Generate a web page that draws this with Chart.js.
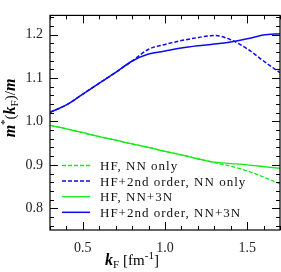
<!DOCTYPE html>
<html>
<head>
<meta charset="utf-8">
<script src="https://cdn.jsdelivr.net/npm/chart.js@4.4.0/dist/chart.umd.min.js"></script>
<style>
  html, body { margin: 0; padding: 0; background: #fff; }
  #wrap { width: 281px; height: 272px; position: relative; }
</style>
</head>
<body>
<div id="wrap"><canvas id="c"></canvas></div>
<script>
// --- DATA ---
const kF = [0.3, 0.4, 0.5, 0.6, 0.7, 0.8, 0.9, 1.0, 1.1, 1.2, 1.3, 1.4, 1.5, 1.6, 1.7];
const hfNN      = [0.991, 0.983, 0.974, 0.965, 0.957, 0.948, 0.940, 0.931, 0.923, 0.914, 0.905, 0.897, 0.886, 0.872, 0.856];
const hf2NN     = [1.021, 1.038, 1.063, 1.088, 1.113, 1.139, 1.166, 1.177, 1.186, 1.193, 1.198, 1.188, 1.167, 1.139, 1.112];
const hfNN3N    = [0.991, 0.983, 0.974, 0.965, 0.957, 0.948, 0.940, 0.931, 0.923, 0.914, 0.906, 0.903, 0.900, 0.896, 0.892];
const hf2NN3N   = [1.021, 1.038, 1.063, 1.088, 1.113, 1.139, 1.155, 1.162, 1.169, 1.174, 1.178, 1.183, 1.190, 1.199, 1.202];
const labels = ["HF, NN only", "HF+2nd order, NN only", "HF, NN+3N", "HF+2nd order, NN+3N"];
const xTicks = [0.5, 1.0, 1.5];
const yTicks = [0.8, 0.9, 1.0, 1.1, 1.2];

const GREEN = 'rgb(20,235,20)';
const BLUE = 'rgb(10,10,245)';
const SERIF = "'Liberation Serif', 'DejaVu Serif', serif";

const pts = (ys) => ys.map((y, i) => ({ x: kF[i], y }));

function line(label, ys, color, dashed, w) {
    return {
        label, data: pts(ys), borderColor: color, backgroundColor: color,
        borderWidth: w, borderDash: dashed ? [4, 2] : [], pointRadius: 0,
        cubicInterpolationMode: 'monotone', fill: false
    };
}

// draw text made of several runs (sub/superscripts)
function drawRuns(ctx, runs, x, y) {
    runs.forEach(r => {
        ctx.font = r.font;
        ctx.fillText(r.t, x, y + (r.dy || 0));
        x += ctx.measureText(r.t).width + (r.gap || 0);
    });
    return x;
}
function runsWidth(ctx, runs) {
    let w = 0;
    runs.forEach(r => { ctx.font = r.font; w += ctx.measureText(r.t).width + (r.gap || 0); });
    return w;
}

const framePlugin = {
    id: 'frame',
    afterDraw(chart) {
        const ctx = chart.ctx, a = chart.chartArea;
        const xs = chart.scales.x, ys = chart.scales.y;
        ctx.save();
        ctx.strokeStyle = '#000';
        ctx.lineWidth = 1.2;
        ctx.strokeRect(a.left, a.top, a.right - a.left, a.bottom - a.top);

        // inside ticks on all four sides
        ctx.lineWidth = 1;
        ctx.beginPath();
        for (let v = 0.3; v <= 1.7001; v += 0.1) {
            const px = Math.round(xs.getPixelForValue(v)) + 0.5;
            const major = Math.abs(v * 2 - Math.round(v * 2)) < 1e-6;
            const len = major ? 8 : 4;
            ctx.moveTo(px, a.bottom); ctx.lineTo(px, a.bottom - len);
            ctx.moveTo(px, a.top); ctx.lineTo(px, a.top + len);
        }
        for (let v = 0.76; v <= 1.2401; v += 0.02) {
            const py = Math.round(ys.getPixelForValue(v)) + 0.5;
            const major = Math.abs(v * 10 - Math.round(v * 10)) < 1e-6;
            const len = major ? 8 : 4;
            ctx.moveTo(a.left, py); ctx.lineTo(a.left + len, py);
            ctx.moveTo(a.right, py); ctx.lineTo(a.right - len, py);
        }
        ctx.stroke();

        // legend inside the plot
        ctx.textBaseline = 'middle';
        ctx.fillStyle = '#111';
        chart.data.datasets.forEach((ds, i) => {
            const y = 165.5 + i * 15.6;
            ctx.strokeStyle = ds.borderColor;
            ctx.lineWidth = ds.borderWidth;
            ctx.setLineDash(ds.borderDash);
            ctx.beginPath(); ctx.moveTo(62, y); ctx.lineTo(90, y); ctx.stroke();
            ctx.setLineDash([]);
            ctx.font = '13px ' + SERIF;
            ctx.letterSpacing = '1px';
            ctx.fillText(ds.label, 100, y + 1);
            ctx.letterSpacing = '0px';
        });

        // axis titles
        ctx.fillStyle = '#000';
        ctx.textBaseline = 'alphabetic';
        const bi = 'bold italic 16px ' + SERIF;
        const rm = '15px ' + SERIF;
        const sub = '11px ' + SERIF;
        const xRuns = [
            { t: 'k', font: bi },
            { t: 'F', font: sub, dy: 3, gap: 4 },
            { t: '[fm', font: rm },
            { t: '-1', font: sub, dy: -6 },
            { t: ']', font: rm }
        ];
        drawRuns(ctx, xRuns, 105, 265);

        const yRuns = [
            { t: 'm', font: bi },
            { t: '*', font: sub, dy: -7 },
            { t: '(', font: rm },
            { t: 'k', font: bi },
            { t: 'F', font: sub, dy: 3 },
            { t: ')/', font: rm },
            { t: 'm', font: bi }
        ];
        const w = runsWidth(ctx, yRuns);
        ctx.translate(15, 108);
        ctx.rotate(-Math.PI / 2);
        drawRuns(ctx, yRuns, -w / 2, 0);
        ctx.restore();
    }
};

new Chart(document.getElementById('c'), {
    type: 'line',
    data: {
        datasets: [
            line(labels[0], hfNN, GREEN, true, 1.3),
            line(labels[1], hf2NN, BLUE, true, 1.5),
            line(labels[2], hfNN3N, GREEN, false, 1.3),
            line(labels[3], hf2NN3N, BLUE, false, 1.5)
        ]
    },
    options: {
        responsive: true,
        maintainAspectRatio: false,
        animation: false,
        devicePixelRatio: 1,
        layout: { padding: { top: 3, right: 1, left: 0, bottom: 0 } },
        plugins: { legend: { display: false }, tooltip: { enabled: false } },
        scales: {
            x: {
                type: 'linear', min: 0.3, max: 1.7,
                afterBuildTicks: s => { s.ticks = xTicks.map(v => ({ value: v })); },
                afterFit: s => { s.height = 42; },
                grid: { display: false, drawTicks: false },
                border: { display: false },
                ticks: { color: '#222', padding: 10, maxRotation: 0, autoSkip: false,
                         font: { family: SERIF, size: 14 }, callback: v => Number(v).toFixed(1) }
            },
            y: {
                type: 'linear', min: 0.75, max: 1.244,
                afterBuildTicks: s => { s.ticks = yTicks.map(v => ({ value: v })); },
                afterFit: s => { s.width = 50; },
                grid: { display: false, drawTicks: false },
                border: { display: false },
                ticks: { color: '#222', padding: 7, autoSkip: false,
                         font: { family: SERIF, size: 14 }, callback: v => Number(v).toFixed(1) }
            }
        }
    },
    plugins: [framePlugin]
});
</script>
</body>
</html>
